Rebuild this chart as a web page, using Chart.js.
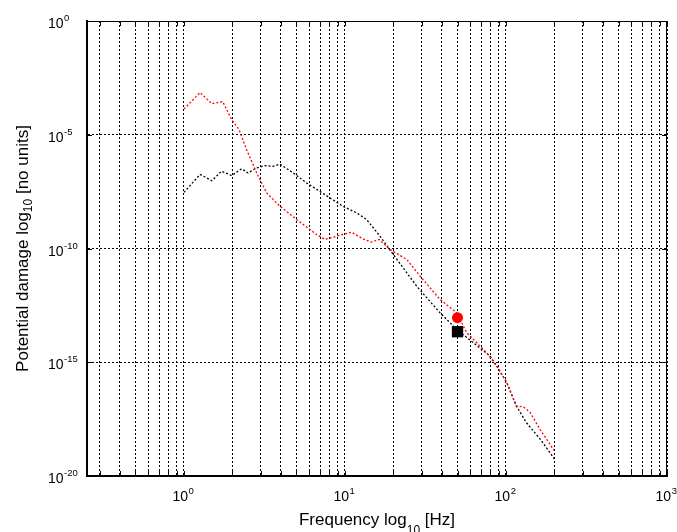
<!DOCTYPE html>
<html><head><meta charset="utf-8">
<script src="https://cdn.jsdelivr.net/npm/chart.js@4/dist/chart.umd.min.js"></script>
<style>html,body{margin:0;padding:0;background:#fff;}</style>
</head><body>
<canvas id="c" width="677" height="532"></canvas>
<script>
// ---- data ----
const redFreq = [1, 1.26, 1.49, 1.74, 1.98, 2.2, 2.45, 2.83, 3.26, 3.95, 5.0, 6.06, 6.67, 7.5, 8.9, 11, 13, 14.6, 16.3, 19, 24.2, 29.2, 38.9, 49.4, 57, 75.9, 87.5, 101, 116, 128, 141, 163, 200];
const redDamage = [1.35e-4, 7.2e-4, 2.3e-4, 2.9e-4, 4.6e-5, 1.7e-5, 2.2e-6, 2.1e-7, 2.8e-8, 7.2e-9, 1.9e-9, 6.8e-10, 4.1e-10, 2.5e-10, 3.5e-10, 5.2e-10, 2.6e-10, 1.9e-10, 2.5e-10, 9.1e-11, 3.3e-11, 6.2e-12, 5.8e-13, 1.5e-13, 2.0e-14, 2.6e-15, 6.9e-16, 1.3e-16, 1.2e-17, 1.1e-17, 6.3e-18, 1.1e-18, 1.26e-19];
const blackFreq = [1, 1.26, 1.49, 1.71, 1.98, 2.28, 2.5, 2.83, 3.18, 3.58, 3.95, 4.77, 5.78, 7.0, 9.7, 11.8, 13.6, 16.5, 18.6, 27.9, 38.9, 49.4, 62.7, 79.5, 87.5, 101, 116, 134, 163, 200];
const blackDamage = [2.95e-8, 1.8e-7, 9.5e-8, 2.5e-7, 1.6e-7, 3.2e-7, 2.1e-7, 3.5e-7, 4.4e-7, 4.1e-7, 5.1e-7, 2.1e-7, 7.6e-8, 3.2e-8, 7.2e-9, 3.7e-9, 1.9e-9, 3.5e-10, 1.07e-10, 2.2e-12, 1.5e-13, 2.8e-14, 7.2e-15, 1.9e-15, 6.9e-16, 1.3e-16, 1.2e-17, 2.2e-18, 4.2e-19, 5.6e-20];
const markerFreq = [50];
const redMarkerDamage = [9.1e-14];
const blackMarkerDamage = [2.2e-14];

const xMin = 0.25, xMax = 1000;
const yMin = 1e-20, yMax = 1;
const xGridTicks = [0.3,0.4,0.5,0.6,0.7,0.8,0.9,1,2,3,4,5,6,7,8,9,10,20,30,40,50,60,70,80,90,100,200,300,400,500,600,700,800,900,1000];
const xLabelTicks = [1, 10, 100, 1000];
const xLabelExponents = ['0', '1', '2', '3'];
const yTicks = [1e-20, 1e-15, 1e-10, 1e-5, 1];
const yLabelExponents = ['-20', '-15', '-10', '-5', '0'];
const xTitle = ['Frequency log', '10', ' [Hz]'];
const yTitle = ['Potential damage log', '10', ' [no units]'];

const FONT = '"Liberation Sans", Arial, sans-serif';

const toPts = (xs, ys) => xs.map((x, i) => ({x: x, y: ys[i]}));

const decor = {
  id: 'decor',
  afterDraw(chart) {
    const {ctx, chartArea: a, scales: {x, y}} = chart;
    ctx.save();
    ctx.setLineDash([]);
    ctx.strokeStyle = '#000';
    ctx.lineWidth = 1;
    // top and right frame
    ctx.beginPath();
    ctx.moveTo(a.left, a.top + 0.5);
    ctx.lineTo(a.right - 0.5, a.top + 0.5);
    ctx.lineTo(a.right - 0.5, a.bottom);
    ctx.stroke();
    // inward ticks
    ctx.beginPath();
    xGridTicks.forEach(v => {
      const px = Math.round(x.getPixelForValue(v)) + 0.5;
      ctx.moveTo(px, a.bottom); ctx.lineTo(px, a.bottom - 5);
      ctx.moveTo(px, a.top); ctx.lineTo(px, a.top + 5);
    });
    yTicks.forEach(v => {
      const py = Math.round(y.getPixelForValue(v)) + 0.5;
      ctx.moveTo(a.left, py); ctx.lineTo(a.left + 5, py);
      ctx.moveTo(a.right, py); ctx.lineTo(a.right - 5, py);
    });
    ctx.stroke();

    ctx.fillStyle = '#000';
    ctx.textBaseline = 'alphabetic';
    ctx.textAlign = 'left';
    // y tick labels
    yTicks.forEach((v, i) => {
      const py = y.getPixelForValue(v);
      ctx.font = '14px ' + FONT;
      ctx.fillText('10', 48, py + 7);
      const w = ctx.measureText('10').width;
      ctx.font = '9.5px ' + FONT;
      ctx.fillText(yLabelExponents[i], 48 + w + 0.5, py);
    });
    // x tick labels
    xLabelTicks.forEach((v, i) => {
      const px = x.getPixelForValue(v);
      ctx.font = '14px ' + FONT;
      const w1 = ctx.measureText('10').width;
      ctx.font = '9.5px ' + FONT;
      const w2 = ctx.measureText(xLabelExponents[i]).width;
      const sx = px - (w1 + w2) / 2 - 1;
      ctx.font = '14px ' + FONT;
      ctx.fillText('10', sx, 501);
      ctx.font = '9.5px ' + FONT;
      ctx.fillText(xLabelExponents[i], sx + w1 + 0.5, 494);
    });
    // titles
    const drawTitle = (parts, cx, base, subOff) => {
      ctx.font = '17px ' + FONT;
      const w0 = ctx.measureText(parts[0]).width;
      const w2 = ctx.measureText(parts[2]).width;
      ctx.font = '12px ' + FONT;
      const w1 = ctx.measureText(parts[1]).width;
      const total = w0 + w1 + w2;
      let sx = cx - total / 2;
      ctx.font = '17px ' + FONT;
      ctx.fillText(parts[0], sx, base);
      ctx.font = '12px ' + FONT;
      ctx.fillText(parts[1], sx + w0, base + subOff);
      ctx.font = '17px ' + FONT;
      ctx.fillText(parts[2], sx + w0 + w1, base);
    };
    drawTitle(xTitle, (a.left + a.right) / 2, 525, 9);
    ctx.translate(28, (a.top + a.bottom) / 2);
    ctx.rotate(-Math.PI / 2);
    drawTitle(yTitle, 0, 0, 4);
    ctx.restore();
  }
};

new Chart(document.getElementById('c'), {
  type: 'line',
  data: {
    datasets: [
      {data: toPts(redFreq, redDamage), borderColor: '#ff0000', borderWidth: 1.3, borderDash: [2, 2], pointRadius: 0, tension: 0, fill: false},
      {data: toPts(blackFreq, blackDamage), borderColor: '#000000', borderWidth: 1.3, borderDash: [2, 2], pointRadius: 0, tension: 0, fill: false},
      {data: toPts(markerFreq, redMarkerDamage), showLine: false, pointStyle: 'circle', pointRadius: 5.5, pointBackgroundColor: '#ff0000', pointBorderWidth: 0, borderColor: '#ff0000'},
      {data: toPts(markerFreq, blackMarkerDamage), showLine: false, pointStyle: 'rect', pointRadius: 8, pointBackgroundColor: '#000000', pointBorderWidth: 0, borderColor: '#000000'}
    ]
  },
  options: {
    responsive: false,
    animation: false,
    devicePixelRatio: 1,
    layout: {padding: {top: 21, right: 10, left: 0, bottom: 0}},
    plugins: {legend: {display: false}, tooltip: {enabled: false}},
    scales: {
      x: {
        type: 'logarithmic', min: xMin, max: xMax,
        afterBuildTicks: s => { s.ticks = xGridTicks.map(v => ({value: v})); },
        afterFit: s => { s.height = 56; },
        ticks: {display: false},
        grid: {color: '#000', lineWidth: 1, drawTicks: false},
        border: {display: true, color: '#000', width: 2, dash: [2, 2]}
      },
      y: {
        type: 'logarithmic', min: yMin, max: yMax,
        afterBuildTicks: s => { s.ticks = yTicks.map(v => ({value: v})); },
        afterFit: s => { s.width = 87; },
        ticks: {display: false},
        grid: {color: '#000', lineWidth: 1, drawTicks: false},
        border: {display: true, color: '#000', width: 2, dash: [2, 2]}
      }
    }
  },
  plugins: [decor]
});
</script>
</body></html>
